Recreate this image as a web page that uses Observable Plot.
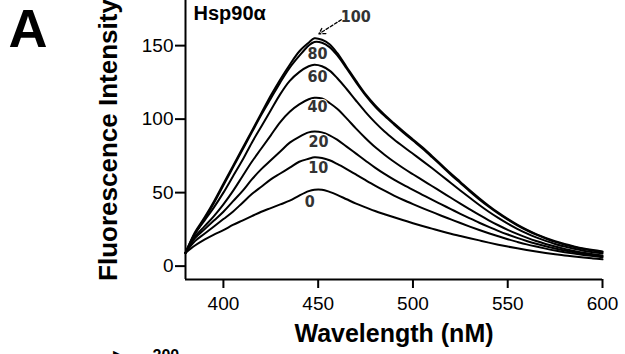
<!DOCTYPE html>
<html><head><meta charset="utf-8">
<script src="https://cdn.jsdelivr.net/npm/d3@7"></script>
<script src="https://cdn.jsdelivr.net/npm/@observablehq/plot@0.6"></script>
<style>html,body{margin:0;padding:0;background:#fff;overflow:hidden}</style>
</head><body><div id="chart"></div>
<script>
const wavelengths = [380,385,390,395,400,405,410,415,420,425,430,435,440,445,448,452,456,460,465,470,475,480,485,490,495,500,505,510,515,520,525,530,535,540,545,550,555,560,565,570,575,580,585,590,595,600];
const conc0   = [9,14,18,21.5,24.5,28,31,34,37,39.5,42,44.5,48,51,52,52,50.5,48.5,45.5,42.5,40,37.5,35.3,33.2,31.2,29.2,27.3,25.5,23.7,22,20.5,19,17.5,16,14.6,13.3,12.1,11,10,9,8.1,7.3,6.5,5.8,5.2,4.6];
const conc10  = [9,17,22,27,32,37,43,49,54,59,63,67,71,73,74,73.5,72,69.5,66,62.3,58.5,54.8,51.3,48,45,42.2,39.5,36.9,34.3,31.8,29.3,26.9,24.6,22.4,20.3,18.3,16.5,14.8,13.3,11.9,10.6,9.5,8.5,7.6,6.8,6.1];
const conc20  = [9,19,25,31,37,44,51,59,66,72,78,84,88,91,91.5,91,89,86,81.3,76.5,71.7,67,62.7,58.8,55.2,51.8,48.5,45.2,42,38.8,35.6,32.5,29.5,26.7,24,21.5,19.2,17.1,15.2,13.5,12,10.6,9.4,8.3,7.4,6.6];
const conc40  = [9,20,27,34,42,51,61,71,80,89,98,105,110,113.5,114.5,114,111,107,100.5,93.5,87,81,75.8,71,66.6,62.5,58.5,54.5,50.5,46.5,42.5,38.6,34.8,31.2,27.8,24.7,21.9,19.4,17.1,15.1,13.3,11.7,10.3,9.1,8.1,7.3];
const conc60  = [9,22,31,40,50,61,72,84,95,106,117,126,132,136,137,136,133,128,120.5,112.5,104.8,97.8,91.6,86.2,81.2,76.4,71.6,66.7,61.7,56.6,51.5,46.5,41.6,37,32.8,28.9,25.4,22.3,19.6,17.2,15.1,13.3,11.8,10.5,9.5,8.7];
const conc80  = [9,22,32,43,55,67,79,91,103,114,125,135,143,150,152.5,152,149,143.5,134.5,125,116.2,108.6,102.2,96.4,90.8,85.4,80,74.2,68.2,62.2,56.5,50.8,45.4,40.4,35.8,31.6,27.8,24.4,21.4,18.8,16.5,14.6,13,11.6,10.5,9.6];
const conc100 = [9,23,33,44,56,68,80,92,104,116,127,137,146,152,155,154,151,145,135.5,126,117,109.5,103,97.2,91.6,86.2,80.8,75,69,63,57.3,51.6,46.2,41.1,36.4,32.1,28.2,24.8,21.8,19.2,16.9,15,13.4,12,10.9,10];

const seriesNames = ["0","10","20","40","60","80","100"];
const seriesValues = [conc0, conc10, conc20, conc40, conc60, conc80, conc100];

const labelText = ["0","10","20","40","60","80","100"];
const labelX = [445.5, 450, 450.2, 449.7, 449.7, 449.7, 469.8];
const labelY = [44, 67, 84.8, 108, 129, 144.7, 169.9];

const arrowFrom = [462.2, 167.6];
const arrowTo = [450.4, 158];

const xTicks = [400, 450, 500, 550, 600];
const yTicks = [0, 50, 100, 150];
const xDomain = [380, 600];
const yDomain = [-9.1, 180.7];

const rows = seriesNames.flatMap((name, i) => wavelengths.map((w, j) => ({series: name, w, v: seriesValues[i][j]})));
const labels = labelText.map((t, i) => ({t, x: labelX[i], y: labelY[i]}));
const arrows = [{x1: arrowFrom[0], y1: arrowFrom[1], x2: arrowTo[0], y2: arrowTo[1]}];

const font = "'Liberation Sans', Arial, sans-serif";
const narrow = "'Liberation Sans Narrow', 'Arial Narrow', 'DejaVu Sans Condensed', sans-serif";

const plot = Plot.plot({
  width: 625, height: 354,
  marginTop: 0, marginBottom: 75, marginLeft: 185, marginRight: 23,
  style: {fontFamily: font, background: "#fff", color: "#000", overflow: "visible"},
  x: {domain: xDomain, label: null},
  y: {domain: yDomain, label: null},
  marks: [
    Plot.axisX(xTicks, {tickSize: 9, tickPadding: 8, fontSize: 19, strokeWidth: 2, label: null}),
    Plot.axisY(yTicks, {tickSize: 10, tickPadding: 2, fontSize: 19, strokeWidth: 2, label: null}),
    Plot.ruleX([xDomain[0]], {strokeWidth: 2}),
    Plot.ruleY([yDomain[0]], {strokeWidth: 2}),
    Plot.line(rows, {x: "w", y: "v", z: "series", stroke: "#000", strokeWidth: 2, curve: "catmull-rom"}),
    Plot.text(labels, {x: "x", y: "y", text: "t", fontSize: 16, fontFamily: narrow, fontWeight: "bold", fill: "#333", stroke: "#fff", strokeWidth: 2, paintOrder: "stroke"}),
    Plot.arrow(arrows, {x1: "x1", y1: "y1", x2: "x2", y2: "y2", stroke: "#000", strokeWidth: 1.3, strokeDasharray: "3,2", headLength: 8}),
    Plot.text(["Hsp90α"], {frameAnchor: "top-left", dx: 8, dy: 5, textAnchor: "start", lineAnchor: "top", fontSize: 20, fontWeight: "bold"}),
    Plot.text(["Wavelength (nM)"], {frameAnchor: "bottom", dy: 54, textAnchor: "middle", lineAnchor: "middle", fontSize: 25, fontWeight: "bold"}),
    Plot.text(["Fluorescence Intensity"], {frameAnchor: "left", dx: -77, rotate: -90, textAnchor: "middle", lineAnchor: "middle", fontSize: 26, fontWeight: "bold"}),
    Plot.text(["A"], {frameAnchor: "top-left", dx: -177, dy: 8, textAnchor: "start", lineAnchor: "top", fontSize: 54, fontWeight: "bold"}),
    Plot.text(["▶"], {frameAnchor: "bottom-left", dx: -73, dy: 70, textAnchor: "start", lineAnchor: "top", fontSize: 16}),
    Plot.text(["200"], {frameAnchor: "bottom-left", dx: -33, dy: 70, textAnchor: "start", lineAnchor: "top", fontSize: 16, fontWeight: "bold"})
  ]
});
document.getElementById("chart").appendChild(plot);
</script>
</body></html>
